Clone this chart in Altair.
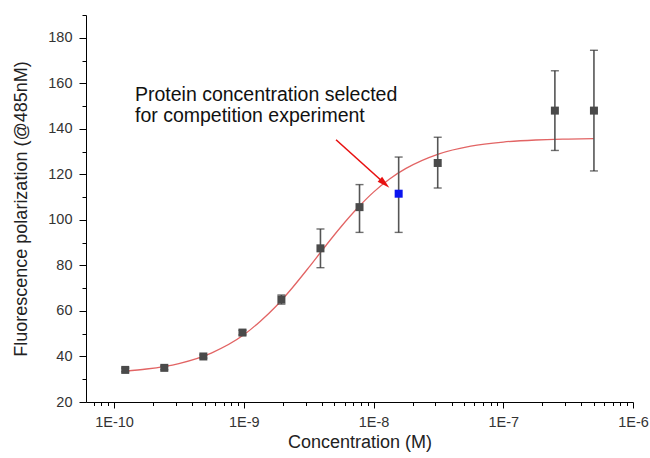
import altair as alt
import pandas as pd

# ---- data ----
conc = [1.22e-10, 2.44e-10, 4.88e-10, 9.77e-10, 1.95e-9, 3.9e-9, 7.8e-9,
        1.5625e-8, 3.125e-8, 2.5e-7, 5e-7]
fp = [34.1, 35.0, 40.0, 50.5, 65.0, 87.5, 105.6, 111.5, 125.0, 148.0, 148.0]
err_lo = [33.3, 34.2, 39.3, 49.5, 63.0, 79.0, 94.5, 94.5, 114.0, 130.5, 121.5]
err_hi = [34.9, 35.8, 40.7, 51.5, 67.0, 96.0, 115.5, 127.6, 136.3, 165.5, 174.5]
selected = [False, False, False, False, False, False, False, True, False, False, False]

fit_x = [1.22e-10, 1.78e-10, 3.16e-10, 5.62e-10, 1.0e-9, 1.33e-9, 1.78e-9,
         2.37e-9, 3.16e-9, 4.22e-9, 5.62e-9, 7.5e-9, 1.0e-8, 1.33e-8,
         1.78e-8, 3.16e-8, 5.62e-8, 1.0e-7, 1.78e-7, 3.16e-7, 5.0e-7]
fit_y = [33.6, 34.5, 36.9, 41.5, 49.5, 55.3, 62.2, 70.2, 79.0, 88.2, 97.0,
         105.1, 112.2, 118.0, 122.6, 128.9, 132.4, 134.2, 135.1, 135.5, 135.7]

x_major = [1e-10, 1e-9, 1e-8, 1e-7, 1e-6]
x_minor = [m * d for d in [1e-11, 1e-10, 1e-9, 1e-8, 1e-7] for m in range(2, 10)
           if m * d > 6.0e-11]
y_major = [20, 40, 60, 80, 100, 120, 140, 160, 180]
y_minor = [30, 50, 70, 90, 110, 130, 150, 170, 190]

note_lines = ["Protein concentration selected", "for competition experiment"]
note_x = [1.45e-10, 1.45e-10]
note_y = [152.4, 142.8]

arrow_start = (5.14e-9, 135.2)
arrow_head = (1.2e-8, 116.3)

# ---- tables ----
pts = pd.DataFrame({"conc": conc, "fp": fp, "lo": err_lo, "hi": err_hi,
                    "sel": selected})
fit = pd.DataFrame({"conc": fit_x, "fp": fit_y})
notes = pd.DataFrame({"conc": note_x, "fp": note_y, "txt": note_lines})
arrow = pd.DataFrame({"x1": [arrow_start[0]], "y1": [arrow_start[1]],
                      "x2": [arrow_head[0]], "y2": [arrow_head[1]]})

FONT = "Liberation Sans"
xscale = alt.Scale(type="log", domain=[6.08e-11, 1e-6], nice=False)
yscale = alt.Scale(domain=[20, 190], nice=False, zero=False)

x_axis = alt.Axis(values=x_major, labelExpr="'1E' + round(log(datum.value)/LN10)",
                  tickSize=6, tickColor="black", domainColor="black",
                  labelFont=FONT, labelFontSize=14.5, labelColor="#333333",
                  labelPadding=7, titleFont=FONT, titleFontSize=18,
                  titleFontWeight="normal", titleColor="#222222", titlePadding=5,
                  grid=False, orient="bottom", labelFlush=False)
y_axis = alt.Axis(values=y_major, tickSize=7, tickColor="black", domainColor="black",
                  labelFont=FONT, labelFontSize=14.5, labelColor="#333333",
                  labelPadding=7, titleFont=FONT, titleFontSize=18,
                  titleFontWeight="normal", titleColor="#222222", titlePadding=17,
                  grid=False, orient="left")

X = alt.X("conc:Q", scale=xscale, axis=x_axis, title="Concentration (M)")
Y = alt.Y("fp:Q", scale=yscale, axis=y_axis, title="Fluorescence polarization (@485nM)")

curve = alt.Chart(fit).mark_line(color="#e26464", strokeWidth=1.3,
                                 interpolate="monotone").encode(x=X, y=Y)

bars = alt.Chart(pts).mark_rule(color="#555555", strokeWidth=1.6).encode(
    x="conc:Q", y="lo:Q", y2="hi:Q")
cap_lo = alt.Chart(pts).mark_tick(color="#333333", orient="horizontal", size=8,
                                  thickness=1.4).encode(x="conc:Q", y="lo:Q")
cap_hi = alt.Chart(pts).mark_tick(color="#333333", orient="horizontal", size=8,
                                  thickness=1.4).encode(x="conc:Q", y="hi:Q")

squares = alt.Chart(pts).mark_point(shape="square", filled=True, size=64,
                                    opacity=1).encode(
    x="conc:Q", y="fp:Q",
    color=alt.condition("datum.sel", alt.value("#0a14f0"), alt.value("#4a4a4a")))

text = alt.Chart(notes).mark_text(align="left", baseline="alphabetic", font=FONT,
                                  fontSize=19.5, color="#111111").encode(
    x="conc:Q", y="fp:Q", text="txt:N")

arrow_line = alt.Chart(arrow).mark_rule(color="#e81010", strokeWidth=1.6).encode(
    x="x1:Q", y="y1:Q", x2="x2:Q", y2="y2:Q")
arrow_tip = alt.Chart(arrow).mark_point(shape="M0,-1L0.45,0.7L-0.45,0.7Z",
                                        filled=True, size=225, angle=132,
                                        color="#e81010", opacity=1).encode(
    x="x2:Q", y="y2:Q")

main = alt.layer(curve, bars, cap_lo, cap_hi, squares, text, arrow_line, arrow_tip)

minor = alt.Chart(fit).mark_point(opacity=0).encode(
    x=alt.X("conc:Q", scale=xscale, title="",
            axis=alt.Axis(values=x_minor, labels=False, tickSize=3.5, tickColor="black",
                          domain=False, grid=False, orient="bottom", title="")),
    y=alt.Y("fp:Q", scale=yscale, title="",
            axis=alt.Axis(values=y_minor, labels=False, tickSize=4, tickColor="black",
                          domain=False, grid=False, orient="left", title="")))

chart = alt.layer(main, minor).resolve_axis(x="independent", y="independent").properties(
    width=547, height=387,
    autosize=alt.AutoSizeParams(type="none"),
    padding={"left": 86, "top": 15, "right": 17, "bottom": 56},
    background="white",
).configure_view(stroke=None)

chart.save("out.html", embed_options={"renderer": "svg", "actions": False})
